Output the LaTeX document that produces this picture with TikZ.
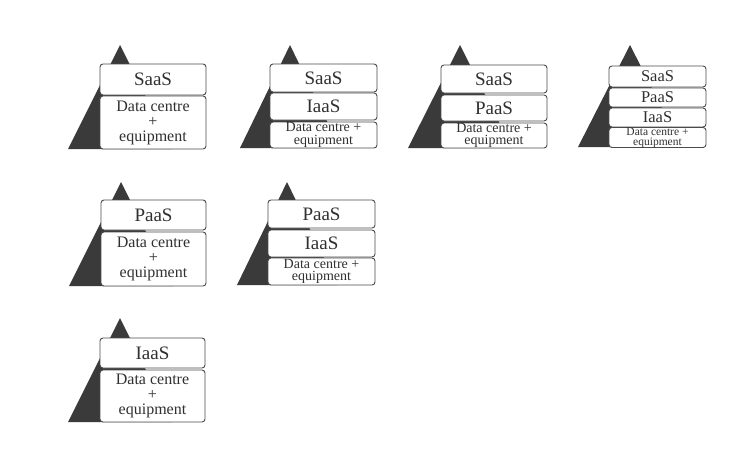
\documentclass[tikz,border=0pt]{standalone}
\usepackage{fontspec}
\setmainfont{Liberation Serif}
\definecolor{tri}{HTML}{3A3A3A}
\definecolor{edge}{HTML}{4A4A4A}
\definecolor{ink}{HTML}{303030}
\begin{document}
\begin{tikzpicture}[x=1pt,y=-1pt,
  layer/.style={draw=edge, fill=white, rounded corners=3pt, line width=0.9pt,
    inner sep=0pt, align=center, text=ink},
  big/.style={layer, font=\fontsize{19}{20}\selectfont},
  mid/.style={layer, font=\fontsize{16.5}{20}\selectfont},
  dc/.style={layer, font=\fontsize{16}{15}\selectfont},
  dcs/.style={layer, font=\fontsize{14}{12.5}\selectfont},
  dct/.style={layer, font=\fontsize{11.5}{10}\selectfont},
  pyr/.style={fill=tri}]
\useasboundingbox (0,0) rectangle (751,452);
\fill[white] (0,0) rectangle (751,452);
% group 1
\fill[pyr] (120,45) -- (68,149) -- (172,149) -- cycle;
\node[big, minimum width=106, minimum height=31] (g1s) at (153,79.5) {SaaS};
\node[dc, minimum width=106, minimum height=53] (g1d) at (153,122.5) {Data centre\\+\\equipment};
% group 2
\fill[pyr] (290,45) -- (240,148) -- (340,148) -- cycle;
\node[big, minimum width=107, minimum height=28] (g2s) at (323.5,78) {SaaS};
\node[big, minimum width=107, minimum height=27] (g2i) at (323.5,106.5) {IaaS};
\node[dcs, minimum width=107, minimum height=26] (g2d) at (323.5,135) {Data centre +\\equipment};
% group 3
\fill[pyr] (460,45) -- (408,148) -- (512,148) -- cycle;
\node[big, minimum width=106, minimum height=28] (g3s) at (494,79) {SaaS};
\node[big, minimum width=106, minimum height=26] (g3p) at (494,108) {PaaS};
\node[dcs, minimum width=106, minimum height=25] (g3d) at (494,135.5) {Data centre +\\equipment};
% group 4
\fill[pyr] (630,45) -- (578,147) -- (682,147) -- cycle;
\node[mid, minimum width=97, minimum height=21] (g4s) at (657.5,76.5) {SaaS};
\node[mid, minimum width=97, minimum height=19] (g4p) at (657.5,97.5) {PaaS};
\node[mid, minimum width=97, minimum height=19] (g4i) at (657.5,117.5) {IaaS};
\node[dct, minimum width=97, minimum height=19] (g4d) at (657.5,137.5) {Data centre +\\equipment};
% group 5
\fill[pyr] (121,182) -- (69,286) -- (173,286) -- cycle;
\node[big, minimum width=105, minimum height=30] (g5p) at (153.5,215) {PaaS};
\node[dc, minimum width=105, minimum height=54] (g5d) at (153.5,259) {Data centre\\+\\equipment};
% group 6
\fill[pyr] (287,182) -- (237,285) -- (337,285) -- cycle;
\node[big, minimum width=107, minimum height=28] (g6p) at (321.5,214) {PaaS};
\node[big, minimum width=107, minimum height=27] (g6i) at (321.5,243.5) {IaaS};
\node[dcs, minimum width=107, minimum height=27] (g6d) at (321.5,271.5) {Data centre +\\equipment};
% group 7
\fill[pyr] (120,318) -- (68,422) -- (172,422) -- cycle;
\node[big, minimum width=105, minimum height=30] (g7i) at (152.5,353) {IaaS};
\node[dc, minimum width=105, minimum height=52] (g7d) at (152.5,396) {Data centre\\+\\equipment};
\end{tikzpicture}
\end{document}
